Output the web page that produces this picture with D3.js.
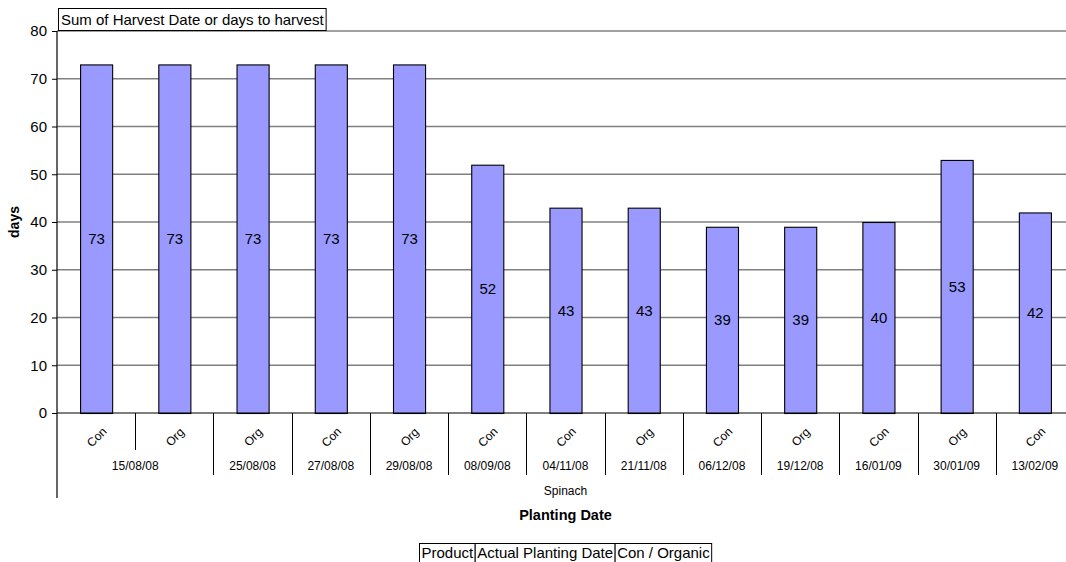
<!DOCTYPE html>
<html>
<head>
<meta charset="utf-8">
<script src="https://cdn.jsdelivr.net/npm/d3@7"></script>
<style>
  html, body { margin: 0; padding: 0; background: #fff; }
  svg { display: block; font-family: "Liberation Sans", Arial, sans-serif; }
</style>
</head>
<body>
<svg id="chart" width="1066" height="562"></svg>
<script>
// Pivot data: Spinach plantings, days to harvest per planting date and growing method
const product = "Spinach";
const plantingDates = ["15/08/08", "15/08/08", "25/08/08", "27/08/08", "29/08/08", "08/09/08",
  "04/11/08", "21/11/08", "06/12/08", "19/12/08", "16/01/09", "30/01/09", "13/02/09"];
const methods = ["Con", "Org", "Org", "Con", "Org", "Con", "Con", "Org", "Con", "Org", "Con", "Org", "Con"];
const days = [73, 73, 73, 73, 73, 52, 43, 43, 39, 39, 40, 53, 42];
const yTicks = [0, 10, 20, 30, 40, 50, 60, 70, 80];
const fieldButtons = ["Product", "Actual Planting Date", "Con / Organic"];

const svg = d3.select("#chart");
const plotL = 57, plotR = 1074, plotT = 31, plotB = 413;

const idx = d3.range(days.length);
const x = d3.scaleBand().domain(idx).range([plotL, plotR]).paddingInner(0.59).paddingOuter(0.295);
const step = x.step();
const y = d3.scaleLinear().domain([0, 80]).range([plotB, plotT]);

// Horizontal gridlines
svg.append("g").selectAll("line").data(yTicks.filter(d => d > 0)).join("line")
  .attr("x1", plotL).attr("x2", plotR)
  .attr("y1", d => y(d)).attr("y2", d => y(d))
  .attr("stroke", "#808080").attr("stroke-width", 1.3);

// Bars
svg.append("g").selectAll("rect").data(idx).join("rect")
  .attr("x", i => x(i) + 0.5)
  .attr("y", i => y(days[i]) + 0.5)
  .attr("width", x.bandwidth())
  .attr("height", i => y(0) - y(days[i]))
  .attr("fill", "#9999ff")
  .attr("stroke", "#000").attr("stroke-width", 1.1);

// Value labels in the middle of each bar
svg.append("g").selectAll("text").data(idx).join("text")
  .attr("x", i => x(i) + x.bandwidth() / 2 + 0.5)
  .attr("y", i => (y(days[i]) + y(0)) / 2)
  .attr("dy", "0.35em")
  .attr("text-anchor", "middle")
  .attr("font-size", 15)
  .attr("fill", "#000")
  .text(i => days[i]);

// Y axis
const yAxis = d3.axisLeft(y).tickValues(yTicks).tickSize(5).tickPadding(5);
const gy = svg.append("g").attr("transform", `translate(${plotL},0)`).call(yAxis);
gy.select(".domain").remove();
gy.selectAll(".tick line").attr("stroke", "#000");
gy.selectAll(".tick text").attr("font-size", 15).attr("font-family", "Liberation Sans, Arial, sans-serif").attr("fill", "#000");
svg.append("line").attr("x1", plotL).attr("x2", plotL).attr("y1", plotT).attr("y2", 498)
  .attr("stroke", "#000").attr("stroke-width", 1.2);

// X axis baseline
svg.append("line").attr("x1", plotL).attr("x2", plotR).attr("y1", plotB).attr("y2", plotB)
  .attr("stroke", "#000").attr("stroke-width", 1.2);

// Group planting dates that span consecutive categories
const groups = [];
idx.forEach(i => {
  const g = groups[groups.length - 1];
  if (g && g.date === plantingDates[i]) g.end = i;
  else groups.push({ date: plantingDates[i], start: i, end: i });
});

// Separators between methods inside one date group (short) and between date groups (long)
const sep = svg.append("g").attr("stroke", "#000").attr("stroke-width", 1);
idx.slice(1).forEach(i => {
  const sx = Math.round(plotL + i * step) + 0.5;
  const sameDate = plantingDates[i] === plantingDates[i - 1];
  sep.append("line").attr("x1", sx).attr("x2", sx)
    .attr("y1", plotB).attr("y2", sameDate ? 450 : 475);
});

// Method labels, rotated
svg.append("g").selectAll("text").data(idx).join("text")
  .attr("transform", i => `translate(${x(i) + x.bandwidth() / 2 + 0.5},437) rotate(-45)`)
  .attr("text-anchor", "middle")
  .attr("dy", "0.35em")
  .attr("font-size", 12)
  .text(i => methods[i]);

// Planting date labels
svg.append("g").selectAll("text").data(groups).join("text")
  .attr("x", g => plotL + (g.start + g.end + 1) / 2 * step)
  .attr("y", 466)
  .attr("dy", "0.35em")
  .attr("text-anchor", "middle")
  .attr("font-size", 12)
  .text(g => g.date);

// Product label
svg.append("text").attr("x", (plotL + plotR) / 2).attr("y", 491).attr("dy", "0.35em")
  .attr("text-anchor", "middle").attr("font-size", 12).text(product);

// Axis titles
svg.append("text").attr("x", (plotL + plotR) / 2).attr("y", 515).attr("dy", "0.35em")
  .attr("text-anchor", "middle").attr("font-size", 14.5).attr("font-weight", "bold").text("Planting Date");
svg.append("text").attr("transform", "translate(14,222) rotate(-90)").attr("dy", "0.35em")
  .attr("text-anchor", "middle").attr("font-size", 14).attr("font-weight", "bold").text("days");

// Data field button
const titleG = svg.append("g");
const titleText = titleG.append("text").attr("x", 61).attr("y", 25).attr("font-size", 15)
  .text("Sum of Harvest Date or days to harvest");
const tw = titleText.node().getComputedTextLength();
titleG.insert("rect", "text").attr("x", 58.5).attr("y", 8.5).attr("width", tw + 5).attr("height", 22)
  .attr("fill", "#fff").attr("stroke", "#000").attr("stroke-width", 1);

// Row field buttons
const fg = svg.append("g");
let fx = 419.5;
fieldButtons.forEach(label => {
  const t = fg.append("text").attr("x", fx + 2).attr("y", 558).attr("font-size", 15).text(label);
  const w = t.node().getComputedTextLength() + 4;
  fg.insert("rect", "text").attr("x", fx).attr("y", 543.5).attr("width", w).attr("height", 20)
    .attr("fill", "#fff").attr("stroke", "#000").attr("stroke-width", 1);
  fx += w;
});
</script>
</body>
</html>
